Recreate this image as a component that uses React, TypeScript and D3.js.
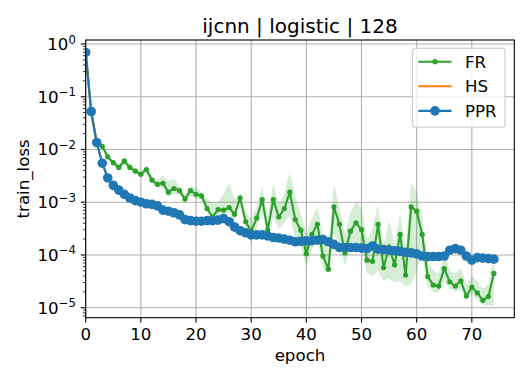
import React, { useRef, useEffect } from 'react';
import * as d3 from 'd3';

// epochs 0..74, values as log10(train_loss)
const epochs = d3.range(0, 75);

const frLog = [
  -0.15, -1.30, -1.88, -1.94, -2.14, -2.25, -2.34, -2.22, -2.34, -2.41,
  -2.47, -2.38, -2.58, -2.66, -2.64, -2.81, -2.74, -2.78, -2.94, -2.78,
  -2.85, -2.88, -3.12, -3.28, -3.14, -3.15, -3.10, -3.23, -2.92, -3.37,
  -3.55, -3.30, -2.95, -3.53, -2.95, -3.28, -3.12, -2.81, -3.33, -3.53,
  -3.98, -3.61, -3.42, -4.02, -4.27, -3.09, -3.42, -3.96, -3.55, -3.39,
  -3.52, -4.10, -4.12, -3.42, -4.24, -3.85, -4.19, -3.61, -4.38, -3.09,
  -3.17, -3.61, -4.41, -4.57, -4.59, -4.26, -4.51, -4.59, -4.49, -4.78,
  -4.61, -4.72, -4.86, -4.79, -4.35,
];
const frHiLog = [
  -0.15, -1.28, -1.85, -1.90, -2.10, -2.20, -2.28, -2.12, -2.28, -2.35,
  -2.42, -2.32, -2.50, -2.58, -2.50, -2.60, -2.55, -2.70, -2.85, -2.70,
  -2.72, -2.80, -2.95, -3.00, -3.00, -2.85, -2.64, -2.95, -2.85, -3.20,
  -3.30, -3.10, -2.70, -3.30, -2.64, -3.05, -2.85, -2.42, -2.90, -3.20,
  -3.60, -3.30, -3.10, -3.60, -3.90, -2.64, -3.10, -3.60, -3.20, -2.99,
  -3.10, -3.70, -3.50, -3.05, -3.80, -3.35, -3.80, -3.20, -3.90, -2.64,
  -2.80, -3.30, -4.10, -4.30, -4.35, -3.95, -4.30, -4.35, -4.25, -4.55,
  -4.40, -4.50, -4.65, -4.55, -3.96,
];
const frLoLog = [
  -0.15, -1.32, -1.90, -1.98, -2.18, -2.30, -2.40, -2.30, -2.40, -2.47,
  -2.52, -2.45, -2.65, -2.72, -2.75, -2.90, -2.85, -2.85, -3.00, -2.88,
  -2.95, -2.95, -3.20, -3.42, -3.28, -3.25, -3.20, -3.35, -3.05, -3.50,
  -3.80, -3.50, -3.20, -3.70, -3.30, -3.50, -3.40, -3.25, -3.70, -3.85,
  -4.23, -3.90, -3.70, -4.25, -4.35, -3.60, -3.80, -4.20, -3.85, -3.75,
  -3.90, -4.35, -4.40, -4.30, -4.50, -4.45, -4.52, -4.50, -4.60, -4.55,
  -4.30, -4.00, -4.60, -4.70, -4.72, -4.50, -4.65, -4.70, -4.65, -4.85,
  -4.75, -4.85, -4.95, -4.95, -4.97,
];
const pprLog = [
  -0.16, -1.28, -1.87, -2.26, -2.54, -2.68, -2.77, -2.85, -2.92, -2.97,
  -3.00, -3.03, -3.04, -3.07, -3.15, -3.17, -3.20, -3.24, -3.33, -3.35,
  -3.36, -3.36, -3.35, -3.35, -3.34, -3.31, -3.37, -3.47, -3.54, -3.58,
  -3.62, -3.62, -3.62, -3.64, -3.67, -3.68, -3.70, -3.72, -3.75, -3.74,
  -3.73, -3.73, -3.72, -3.71, -3.75, -3.80, -3.86, -3.86, -3.86, -3.86,
  -3.87, -3.88, -3.83, -3.89, -3.90, -3.91, -3.92, -3.93, -3.95, -3.96,
  -3.98, -4.02, -4.03, -4.03, -4.03, -4.02, -3.91, -3.88, -3.91, -4.02,
  -4.10, -4.05, -4.06, -4.07, -4.08,
];
const hsLog = [
  -0.16, -1.28, -1.87, -2.26, -2.54, -2.68, -2.77, -2.85, -2.92, -2.97,
  -3.00, -3.03, -3.04, -3.08, -3.18, -3.20, -3.22, -3.25, -3.33, -3.35,
  -3.36, -3.36, -3.35, -3.35, -3.36, -3.35, -3.42, -3.52, -3.58, -3.60,
  -3.62, -3.62, -3.62, -3.64, -3.67, -3.68, -3.70, -3.72, -3.75, -3.74,
  -3.73, -3.73, -3.72, -3.72, -3.78, -3.83, -3.88, -3.86, -3.86, -3.86,
  -3.87, -3.88, -3.85, -3.91, -3.92, -3.92, -3.92, -3.93, -3.95, -3.96,
  -3.98, -4.02, -4.03, -4.03, -4.03, -4.00, -3.88, -3.86, -3.90, -4.02,
  -4.10, -4.05, -4.06, -4.07, -4.08,
];
// half width of the PPR/HS shaded bands (log10)
const bandLog = [
  0.01, 0.01, 0.01, 0.01, 0.01, 0.01, 0.01, 0.01, 0.01, 0.01,
  0.01, 0.01, 0.01, 0.02, 0.05, 0.05, 0.05, 0.04, 0.02, 0.02,
  0.02, 0.02, 0.02, 0.02, 0.04, 0.06, 0.06, 0.06, 0.05, 0.03,
  0.02, 0.02, 0.02, 0.02, 0.02, 0.02, 0.02, 0.02, 0.02, 0.02,
  0.02, 0.02, 0.02, 0.03, 0.05, 0.05, 0.04, 0.02, 0.02, 0.02,
  0.02, 0.02, 0.03, 0.04, 0.04, 0.03, 0.02, 0.02, 0.02, 0.02,
  0.02, 0.02, 0.02, 0.02, 0.03, 0.06, 0.06, 0.06, 0.05, 0.02,
  0.02, 0.02, 0.02, 0.02, 0.02,
];

const xTicks = [0, 10, 20, 30, 40, 50, 60, 70];
const yTickExps = [0, -1, -2, -3, -4, -5];
const legendNames = ['FR', 'HS', 'PPR'];
const colors = { FR: '#2ca02c', HS: '#ff7f0e', PPR: '#1f77b4' };

const W = 532;
const H = 380;
const L = 85.7, R = 514.3, T = 40, B = 317.7;
const FONT = 'DejaVu Sans, sans-serif';

export default function App() {
  const svgRef = useRef<SVGSVGElement>(null);

  useEffect(() => {
    const svg = d3.select(svgRef.current);
    svg.selectAll('*').remove();

    const x = d3.scaleLinear().domain([0, 77.7]).range([L, R]);
    const y = d3.scaleLog().domain([10 ** -5.19, 10 ** 0.076]).range([B, T]);
    const p = (v: number) => 10 ** v;

    // grid
    const grid = svg.append('g');
    xTicks.forEach(t => {
      grid.append('line').attr('x1', x(t)).attr('x2', x(t)).attr('y1', T).attr('y2', B)
        .attr('stroke', '#b0b0b0').attr('stroke-width', 1.1);
    });
    yTickExps.forEach(e => {
      grid.append('line').attr('x1', L).attr('x2', R).attr('y1', y(p(e))).attr('y2', y(p(e)))
        .attr('stroke', '#b0b0b0').attr('stroke-width', 1.1);
    });

    svg.append('clipPath').attr('id', 'plotclip')
      .append('rect').attr('x', L).attr('y', T).attr('width', R - L).attr('height', B - T);
    const plot = svg.append('g').attr('clip-path', 'url(#plotclip)');

    const band = d3.area<number>()
      .x(i => x(epochs[i]));

    const mkLine = (vals: number[]) => d3.line<number>()
      .x((d, i) => x(epochs[i]))
      .y(d => y(p(d)))(vals);

    // FR
    plot.append('path')
      .attr('d', band.y0(i => y(p(frLoLog[i]))).y1(i => y(p(frHiLog[i])))(epochs.map((d, i) => i)))
      .attr('fill', colors.FR).attr('fill-opacity', 0.2);
    plot.append('path').attr('d', mkLine(frLog))
      .attr('fill', 'none').attr('stroke', colors.FR).attr('stroke-width', 2.1);
    plot.selectAll('.frdot').data(frLog).join('circle')
      .attr('cx', (d, i) => x(epochs[i])).attr('cy', d => y(p(d)))
      .attr('r', 2.6).attr('fill', colors.FR);

    // HS
    plot.append('path')
      .attr('d', band.y0(i => y(p(hsLog[i] - bandLog[i]))).y1(i => y(p(hsLog[i] + bandLog[i])))(epochs.map((d, i) => i)))
      .attr('fill', colors.HS).attr('fill-opacity', 0.2);
    plot.append('path').attr('d', mkLine(hsLog))
      .attr('fill', 'none').attr('stroke', colors.HS).attr('stroke-width', 2.1);

    // PPR
    plot.append('path')
      .attr('d', band.y0(i => y(p(pprLog[i] - bandLog[i]))).y1(i => y(p(pprLog[i] + bandLog[i])))(epochs.map((d, i) => i)))
      .attr('fill', colors.PPR).attr('fill-opacity', 0.2);
    plot.append('path').attr('d', mkLine(pprLog))
      .attr('fill', 'none').attr('stroke', colors.PPR).attr('stroke-width', 2.1);
    plot.selectAll('.pprdot').data(pprLog).join('circle')
      .attr('cx', (d, i) => x(epochs[i])).attr('cy', d => y(p(d)))
      .attr('r', 4.8).attr('fill', colors.PPR);

    // spines
    svg.append('rect').attr('x', L).attr('y', T).attr('width', R - L).attr('height', B - T)
      .attr('fill', 'none').attr('stroke', '#000').attr('stroke-width', 1.1);

    // x ticks
    const xa = svg.append('g');
    xTicks.forEach(t => {
      xa.append('line').attr('x1', x(t)).attr('x2', x(t)).attr('y1', B).attr('y2', B + 4.9)
        .attr('stroke', '#000').attr('stroke-width', 1.1);
      xa.append('text').attr('x', x(t)).attr('y', B + 22).attr('text-anchor', 'middle')
        .attr('font-family', FONT).attr('font-size', 16.67).text(t);
    });

    // y ticks (major + minor)
    const ya = svg.append('g');
    yTickExps.forEach(e => {
      const yy = y(p(e));
      ya.append('line').attr('x1', L - 4.9).attr('x2', L).attr('y1', yy).attr('y2', yy)
        .attr('stroke', '#000').attr('stroke-width', 1.1);
      const t = ya.append('text').attr('x', L - 9.8).attr('y', yy + 6).attr('text-anchor', 'end')
        .attr('font-family', FONT).attr('font-size', 16.67);
      t.append('tspan').text('10');
      t.append('tspan').attr('dy', -6.5).attr('font-size', 11.7)
        .text(e === 0 ? '0' : '\u2212' + Math.abs(e));
    });
    d3.range(-6, 1).forEach(e => {
      d3.range(2, 10).forEach(m => {
        const v = m * p(e);
        const [lo, hi] = y.domain();
        if (v < lo || v > hi) return;
        ya.append('line').attr('x1', L - 2.8).attr('x2', L).attr('y1', y(v)).attr('y2', y(v))
          .attr('stroke', '#000').attr('stroke-width', 0.8);
      });
    });

    // labels and title
    svg.append('text').attr('x', (L + R) / 2).attr('y', 361).attr('text-anchor', 'middle')
      .attr('font-family', FONT).attr('font-size', 16.67).text('epoch');
    svg.append('text').attr('transform', `translate(29,${(T + B) / 2}) rotate(-90)`)
      .attr('text-anchor', 'middle').attr('font-family', FONT).attr('font-size', 16.67)
      .text('train_loss');
    svg.append('text').attr('x', (L + R) / 2).attr('y', 33).attr('text-anchor', 'middle')
      .attr('font-family', FONT).attr('font-size', 20).text('ijcnn | logistic | 128');

    // legend
    const lg = svg.append('g');
    lg.append('rect').attr('x', 412.3).attr('y', 48.3).attr('width', 92.7).attr('height', 79)
      .attr('rx', 3).attr('fill', '#fff').attr('fill-opacity', 0.8)
      .attr('stroke', '#cccccc').attr('stroke-width', 1.1);
    legendNames.forEach((name, i) => {
      const ly = 61.7 + i * 24.6;
      const c = colors[name as keyof typeof colors];
      lg.append('line').attr('x1', 418.3).attr('x2', 451.6).attr('y1', ly).attr('y2', ly)
        .attr('stroke', c).attr('stroke-width', 2.1);
      if (name === 'FR') lg.append('circle').attr('cx', 435).attr('cy', ly).attr('r', 2.6).attr('fill', c);
      if (name === 'PPR') lg.append('circle').attr('cx', 435).attr('cy', ly).attr('r', 4.8).attr('fill', c);
      lg.append('text').attr('x', 465).attr('y', ly + 6).attr('font-family', FONT)
        .attr('font-size', 16.67).text(name);
    });
  }, []);

  return (
    <svg ref={svgRef} width={W} height={H}
      style={{ position: 'absolute', left: 0, top: 0, background: '#fff' }} />
  );
}
